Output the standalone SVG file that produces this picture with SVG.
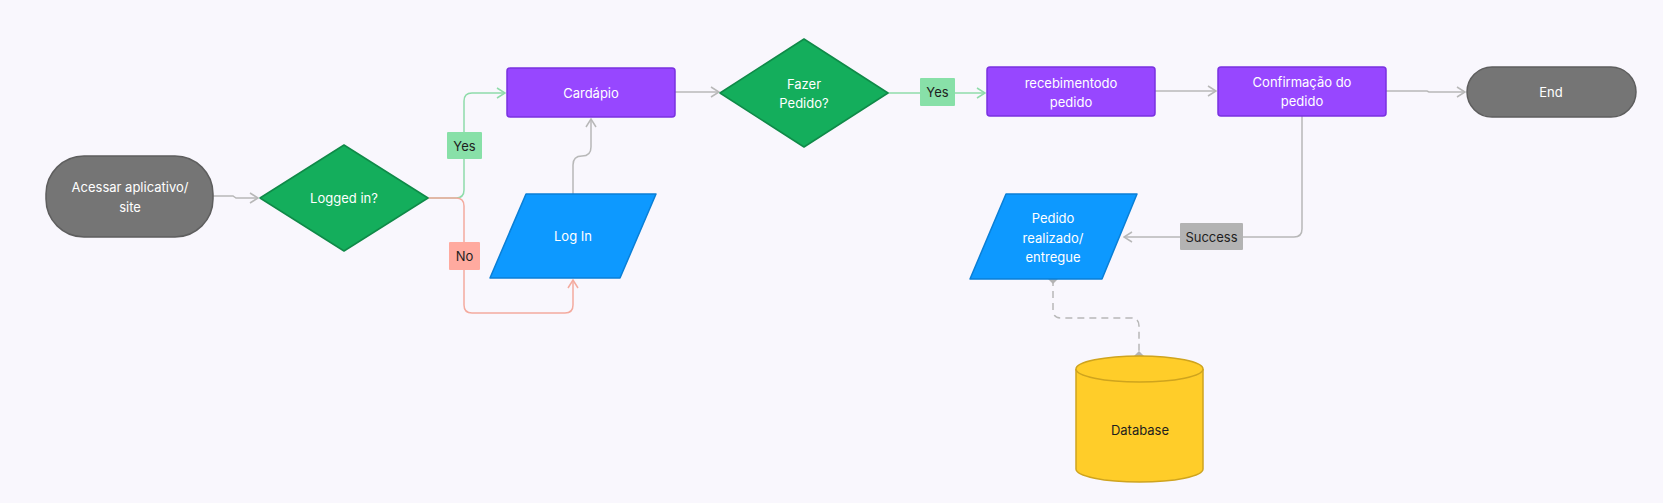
<svg xmlns="http://www.w3.org/2000/svg" width="1663" height="503" viewBox="0 0 1663 503">
<style>
text{font-family:Inter,"Noto Sans","Liberation Sans",sans-serif;font-size:13px;text-anchor:middle;dominant-baseline:central}
.w{fill:#ffffff}
.d{fill:#1e1e1e}
.term{fill:#757575;stroke:#5e5e5e;stroke-width:1.5}
.dec{fill:#14ae5c;stroke:#0f8a48;stroke-width:1.5;stroke-linejoin:round}
.proc{fill:#9747ff;stroke:#7a32e0;stroke-width:1.5}
.io{fill:#0d99ff;stroke:#0a7fd6;stroke-width:1.5;stroke-linejoin:round}
.db{fill:#ffcd29;stroke:#cfa41e;stroke-width:1.5}
.e{fill:none;stroke-width:1.5}
.g{stroke:#b8b8b8}
.gr{stroke:#8fdcaa}
.rd{stroke:#f4ab9f}
</style>
<defs>
<marker id="ag" viewBox="0 0 10 12" refX="9" refY="6" markerWidth="10" markerHeight="12" markerUnits="userSpaceOnUse" orient="auto"><path d="M1,1 L9,6 L1,11" fill="none" stroke="#b8b8b8" stroke-width="1.5"/></marker>
<marker id="agr" viewBox="0 0 10 12" refX="9" refY="6" markerWidth="10" markerHeight="12" markerUnits="userSpaceOnUse" orient="auto"><path d="M1,1 L9,6 L1,11" fill="none" stroke="#8fdcaa" stroke-width="1.5"/></marker>
<marker id="ard" viewBox="0 0 10 12" refX="9" refY="6" markerWidth="10" markerHeight="12" markerUnits="userSpaceOnUse" orient="auto"><path d="M1,1 L9,6 L1,11" fill="none" stroke="#f4ab9f" stroke-width="1.5"/></marker>
<marker id="dm" viewBox="0 0 10 10" refX="5" refY="5" markerWidth="10" markerHeight="10" markerUnits="userSpaceOnUse" orient="auto"><path d="M5,0 L10,5 L5,10 L0,5 Z" fill="#b3b3b3"/></marker>
</defs>
<rect width="1663" height="503" fill="#f9f7fd"/>
<g id="connectors">
<path class="e g" d="M213,196 H233 L236,198 H258" marker-end="url(#ag)"/>
<path class="e gr" d="M428,198 H456 Q464,198 464,190 V101 Q464,93 472,93 H505" marker-end="url(#agr)"/>
<path class="e rd" d="M428,198 H456 Q464,198 464,206 V305 Q464,313 472,313 H565 Q573,313 573,305 V280" marker-end="url(#ard)"/>
<path class="e g" d="M573,194 V165 Q573,156 582,156 Q591,156 591,147 V119" marker-end="url(#ag)"/>
<path class="e g" d="M675,92 H719" marker-end="url(#ag)"/>
<path class="e gr" d="M888,93 H985" marker-end="url(#agr)"/>
<path class="e g" d="M1155,91 H1216" marker-end="url(#ag)"/>
<path class="e g" d="M1386,91 H1427 L1429,92 H1465" marker-end="url(#ag)"/>
<path class="e g" d="M1302,116 V229 Q1302,237 1294,237 H1124" marker-end="url(#ag)"/>
<path class="e g" d="M1053,279 V310 Q1053,318 1061,318 H1131 Q1139,318 1139,326 V356" stroke-dasharray="7 5" marker-start="url(#dm)" marker-end="url(#dm)"/>
<g id="label-yes1"><rect x="447" y="132" width="35" height="27" rx="1" fill="#88e0a8"/><text class="d" x="464.5" y="145.5">Yes</text></g>
<g id="label-no"><rect x="449" y="242" width="31" height="28" rx="1" fill="#ffaa9f"/><text class="d" x="464.5" y="256">No</text></g>
<g id="label-yes2"><rect x="920" y="78" width="35" height="28" rx="1" fill="#88e0a8"/><text class="d" x="937.5" y="92">Yes</text></g>
<g id="label-success"><rect x="1180" y="223" width="63" height="27" rx="1" fill="#b3b3b3"/><text class="d" x="1211.5" y="236.5">Success</text></g>
</g>
<g id="start"><rect class="term" x="46" y="156" width="167" height="81" rx="38"/><text class="w" x="130" y="187">Acessar aplicativo/</text><text class="w" x="130" y="207">site</text></g>
<g id="logged"><path class="dec" d="M344,145 L428,198 L344,251 L260,198 Z"/><text class="w" x="344" y="198">Logged in?</text></g>
<g id="cardapio"><rect class="proc" x="507" y="68" width="168" height="49" rx="3"/><text class="w" x="591" y="92.5">Cardápio</text></g>
<g id="login"><path class="io" d="M526,194 L656,194 L620,278 L490,278 Z"/><text class="w" x="573" y="236">Log In</text></g>
<g id="fazer"><path class="dec" d="M804,39 L888,93 L804,147 L720,93 Z"/><text class="w" x="804" y="84">Fazer</text><text class="w" x="804" y="103">Pedido?</text></g>
<g id="recebimento"><rect class="proc" x="987" y="67" width="168" height="49" rx="3"/><text class="w" x="1071" y="83">recebimentodo</text><text class="w" x="1071" y="102">pedido</text></g>
<g id="confirmacao"><rect class="proc" x="1218" y="67" width="168" height="49" rx="3"/><text class="w" x="1302" y="82">Confirmação do</text><text class="w" x="1302" y="101">pedido</text></g>
<g id="end"><rect class="term" x="1467" y="67" width="169" height="50" rx="25"/><text class="w" x="1551" y="92">End</text></g>
<g id="pedido"><path class="io" d="M1006,194 L1137,194 L1102,279 L970,279 Z"/><text class="w" x="1053" y="218">Pedido</text><text class="w" x="1053" y="238">realizado/</text><text class="w" x="1053" y="257">entregue</text></g>
<g id="database"><path class="db" d="M1076,369 V469 A63.5,13 0 0 0 1203,469 V369"/><ellipse class="db" cx="1139.5" cy="369" rx="63.5" ry="13"/><text class="d" x="1140" y="430">Database</text></g>
</svg>
